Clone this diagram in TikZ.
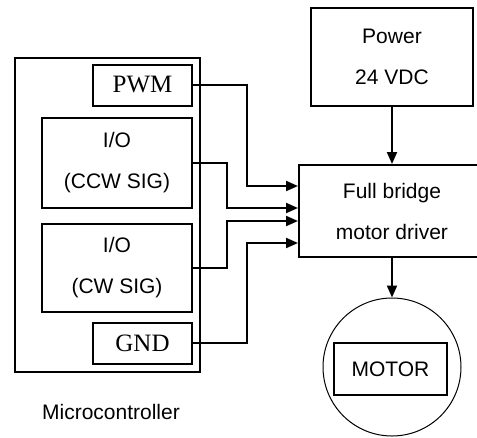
\documentclass[tikz,border=0pt]{standalone}
\usepackage{fontspec}
\usetikzlibrary{arrows.meta}
\newfontfamily\labelsans{Liberation Sans}
\newfontfamily\labelserif{Liberation Serif}

\begin{document}
\begin{tikzpicture}[x=1pt, y=-1pt,
  box/.style={draw, line width=2pt, inner sep=0pt, align=center,
    font=\labelsans\fontsize{21}{41}\selectfont},
  pinbox/.style={box, font=\labelserif\fontsize{25}{30}\selectfont},
  wire/.style={line width=2pt, -{Triangle[length=12pt,width=10pt]}}]

\useasboundingbox (0,0) rectangle (477,437);
\clip (0,0) rectangle (477,437);

% Microcontroller with its pins
\node[box, minimum width=185pt, minimum height=314pt] (mcu) at (107.5,215) {};
\node[pinbox, minimum width=99pt, minimum height=41pt] (pwm) at (142.5,85) {PWM};
\node[box, minimum width=150pt, minimum height=90pt] (ccw) at (117,163) {I/O\\(CCW SIG)};
\node[box, minimum width=150pt, minimum height=88pt] (cw) at (117,268) {I/O\\(CW SIG)};
\node[pinbox, minimum width=99pt, minimum height=41pt] (gnd) at (142.5,343) {GND};
\node[font=\labelsans\fontsize{21}{25}\selectfont] (mculabel) at (111,412) {Microcontroller};

% Power and driver
\node[box, minimum width=162pt, minimum height=98pt] (power) at (392,57) {Power\\24 VDC};
\node[box, minimum width=186pt, minimum height=92pt] (drv) at (392,211) {Full bridge\\motor driver};

% Motor
\node[draw, circle, line width=1pt, minimum size=138pt, inner sep=0pt] (motor) at (392,367) {};
\node[box, minimum width=113pt, minimum height=52pt] (motorbox) at (390.5,369) {MOTOR};

% inputs of the driver
\coordinate (in1) at ([yshift=25pt]drv.west);
\coordinate (in2) at ([yshift=3pt]drv.west);
\coordinate (in3) at ([yshift=-10pt]drv.west);
\coordinate (in4) at ([yshift=-32pt]drv.west);

% signal wires
\draw[wire] (pwm.east) -- ++(54,0) |- (in1);
\draw[wire] (ccw.east) -- ++(34,0) |- (in2);
\draw[wire] (cw.east) -- ++(34,0) |- (in3);
\draw[wire] (gnd.east) -- ++(54,0) |- (in4);

\draw[wire] (power.south) -- (drv.north);
\draw[wire] (drv.south) -- (motor.north);

\end{tikzpicture}
\end{document}
